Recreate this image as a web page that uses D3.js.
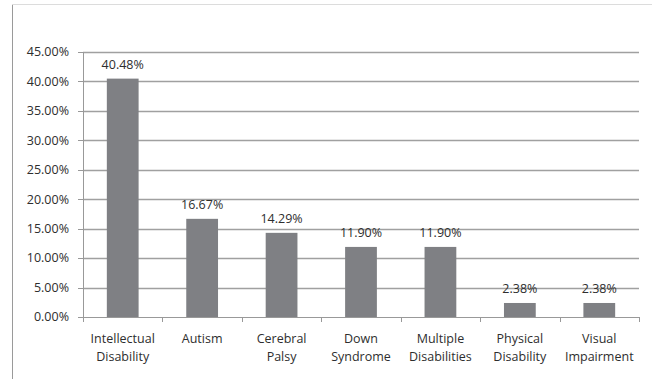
<!DOCTYPE html>
<html>
<head>
<meta charset="utf-8">
<script src="https://cdn.jsdelivr.net/npm/d3@7"></script>
<style>
  body { margin: 0; background: #fff; }
  text { font-family: "Open Sans", "Liberation Sans", sans-serif; fill: #2e2e2e; }
</style>
</head>
<body>
<svg id="chart"></svg>
<script>
const categories = [
  ['Intellectual', 'Disability'],
  ['Autism'],
  ['Cerebral', 'Palsy'],
  ['Down', 'Syndrome'],
  ['Multiple', 'Disabilities'],
  ['Physical', 'Disability'],
  ['Visual', 'Impairment'],
];
const values = [40.48, 16.67, 14.29, 11.90, 11.90, 2.38, 2.38];
const yTicks = [0, 5, 10, 15, 20, 25, 30, 35, 40, 45];

const width = 652;
const height = 379;
const margin = { top: 52, right: 13, bottom: 62, left: 83 };

const svg = d3.select('#chart')
  .attr('width', width)
  .attr('height', height);

// frame lines
svg.append('line')
  .attr('x1', 12.5).attr('x2', 12.5)
  .attr('y1', 4).attr('y2', height)
  .attr('stroke', '#9a9a9a');
svg.append('line')
  .attr('x1', 12).attr('x2', width)
  .attr('y1', 4.5).attr('y2', 4.5)
  .attr('stroke', '#dcdcdc');

const x = d3.scaleBand()
  .domain(d3.range(categories.length))
  .range([margin.left, width - margin.right])
  .paddingInner(0.6)
  .paddingOuter(0.3);

const y = d3.scaleLinear()
  .domain([0, 45])
  .range([height - margin.bottom, margin.top]);

// gridlines
svg.append('g')
  .selectAll('line')
  .data(yTicks.slice(1))
  .enter()
  .append('line')
  .attr('x1', margin.left)
  .attr('x2', width - margin.right)
  .attr('y1', (d) => Math.round(y(d)) + 0.5)
  .attr('y2', (d) => Math.round(y(d)) + 0.5)
  .attr('stroke', '#a0a0a0')
  .attr('stroke-width', 1.4);

// y axis
const yAxis = svg.append('g')
  .attr('transform', `translate(${margin.left},0)`);
yAxis.append('line')
  .attr('x1', 0.5).attr('x2', 0.5)
  .attr('y1', y(45)).attr('y2', y(0))
  .attr('stroke', '#999');
yAxis.selectAll('.tick')
  .data(yTicks)
  .enter()
  .append('line')
  .attr('x1', -5).attr('x2', 0)
  .attr('y1', (d) => Math.round(y(d)) + 0.5)
  .attr('y2', (d) => Math.round(y(d)) + 0.5)
  .attr('stroke', '#999');
yAxis.selectAll('.label')
  .data(yTicks)
  .enter()
  .append('text')
  .attr('x', -14)
  .attr('y', (d) => y(d))
  .attr('dy', '0.35em')
  .attr('text-anchor', 'end')
  .style('font-size', '12.5px')
  .text((d) => `${d.toFixed(2)}%`);

// bars
svg.append('g')
  .selectAll('rect')
  .data(values)
  .enter()
  .append('rect')
  .attr('x', (d, i) => x(i))
  .attr('y', (d) => y(d))
  .attr('width', x.bandwidth())
  .attr('height', (d) => y(0) - y(d))
  .attr('fill', '#7f8084');

// value labels
svg.append('g')
  .selectAll('text')
  .data(values)
  .enter()
  .append('text')
  .attr('x', (d, i) => x(i) + x.bandwidth() / 2)
  .attr('y', (d) => y(d) - 10)
  .attr('text-anchor', 'middle')
  .style('font-size', '12.5px')
  .text((d) => `${d.toFixed(2)}%`);

// x axis
const step = x.step();
const xAxis = svg.append('g');
xAxis.append('line')
  .attr('x1', margin.left).attr('x2', width - margin.right)
  .attr('y1', Math.round(y(0)) + 0.5).attr('y2', Math.round(y(0)) + 0.5)
  .attr('stroke', '#999');
xAxis.selectAll('.tick')
  .data(d3.range(categories.length + 1))
  .enter()
  .append('line')
  .attr('x1', (d) => Math.round(margin.left + d * step) + 0.5)
  .attr('x2', (d) => Math.round(margin.left + d * step) + 0.5)
  .attr('y1', y(0))
  .attr('y2', y(0) + 5)
  .attr('stroke', '#999');

const catLabels = xAxis.selectAll('.cat')
  .data(categories)
  .enter()
  .append('text')
  .attr('text-anchor', 'middle')
  .style('font-size', '12.5px');
catLabels.selectAll('tspan')
  .data((d, i) => d.map((t) => ({ t, i })))
  .enter()
  .append('tspan')
  .attr('x', (d) => x(d.i) + x.bandwidth() / 2)
  .attr('y', (d, j) => y(0) + 26 + j * 18)
  .text((d) => d.t);
</script>
</body>
</html>
